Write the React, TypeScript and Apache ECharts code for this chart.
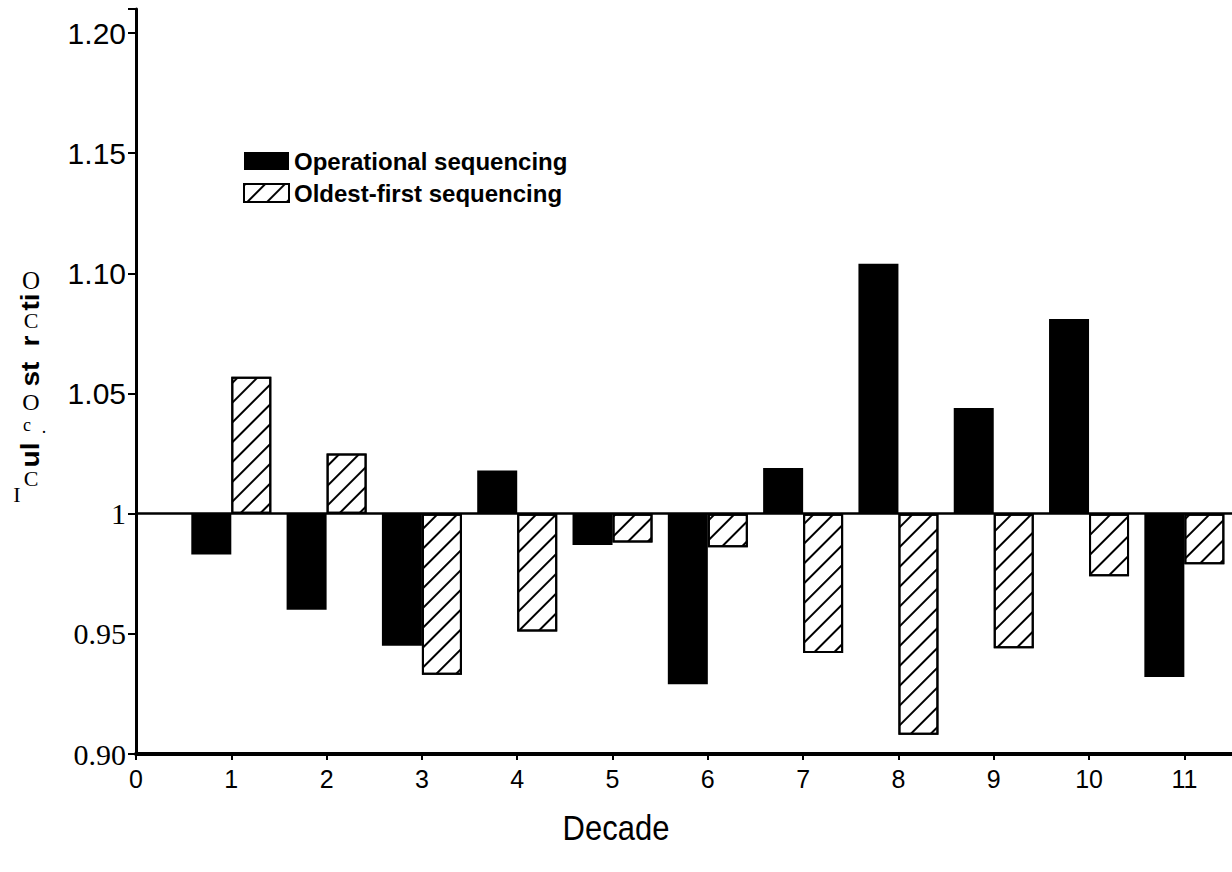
import React, { useEffect, useRef } from "react";
import * as echarts from "echarts";

const decades = [1, 2, 3, 4, 5, 6, 7, 8, 9, 10, 11];
const operational = [0.983, 0.96, 0.945, 1.018, 0.987, 0.929, 1.019, 1.104, 1.044, 1.081, 0.932];
const oldestFirst = [1.057, 1.025, 0.933, 0.951, 0.988, 0.986, 0.942, 0.908, 0.944, 0.974, 0.979];
const yTickLabels = ["0.90", "0.95", "1", "1.05", "1.10", "1.15", "1.20"];
const seriesNames = ["Operational sequencing", "Oldest-first sequencing"];
const baseRatio = 1;
const yMinDelta = -0.1;
const yStep = 0.05;

export default function App() {
  const ref = useRef<HTMLDivElement>(null);
  useEffect(() => {
    if (!ref.current) return;
    const chart = echarts.init(ref.current, null, { renderer: "svg" });
    const sans = "Liberation Sans, Arial, Helvetica, sans-serif";
    const serif = "Liberation Serif, Times New Roman, serif";
    const rot = Math.PI / 2;
    const rotText = (text: string, x: number, y: number) => ({
      type: "text",
      x,
      y,
      rotation: rot,
      scaleX: 1.12,
      style: {
        text,
        fontFamily: sans,
        fontWeight: "bold",
        fontSize: 25,
        fill: "#000",
        textAlign: "center",
        textVerticalAlign: "middle",
      },
      silent: true,
    });
    const upText = (text: string, x: number, y: number, size: number) => ({
      type: "text",
      x,
      y,
      style: { text, fontFamily: serif, fontSize: size, fill: "#000", textAlign: "center", textVerticalAlign: "middle" },
      silent: true,
    });
    const option: any = {
      animation: false,
      backgroundColor: "#fff",
      grid: { left: 136, right: 0, top: 9, bottom: 118, containLabel: false },
      legend: {
        orient: "vertical",
        left: 243,
        top: 149,
        itemWidth: 45,
        itemHeight: 18,
        itemGap: 8,
        padding: 0,
        icon: "rect",
        data: seriesNames,
        textStyle: { fontFamily: sans, fontWeight: "bold", fontSize: 24, color: "#000", padding: [0, 0, 0, 0] },
      },
      xAxis: {
        type: "value",
        min: 0,
        max: 11.5,
        interval: 1,
        splitLine: { show: false },
        axisLine: { onZero: false, lineStyle: { color: "#000", width: 4 } },
        axisTick: { length: 6, lineStyle: { color: "#000", width: 2 } },
        axisLabel: {
          margin: 12,
          color: "#000",
          fontFamily: sans,
          fontSize: 25,
          showMaxLabel: false,
          formatter: (v: number) => (Math.abs(v - Math.round(v)) < 1e-6 ? String(Math.round(v)) : ""),
        },
      },
      yAxis: {
        type: "value",
        min: yMinDelta,
        max: 0.21,
        interval: yStep,
        splitLine: { show: false },
        axisLine: { lineStyle: { color: "#000", width: 3 } },
        axisTick: { length: 8, lineStyle: { color: "#000", width: 2 } },
        axisLabel: {
          margin: 10,
          formatter: (v: number) => {
            const idx = Math.round((v - yMinDelta) / yStep);
            if (Math.abs(v - (yMinDelta + idx * yStep)) > 1e-6 || idx < 0 || idx >= yTickLabels.length) return "";
            const lab = yTickLabels[idx];
            return idx <= 2 ? `{serif|${lab}}` : `{sans|${lab}}`;
          },
          rich: {
            serif: { fontFamily: serif, fontSize: 30, color: "#000" },
            sans: { fontFamily: sans, fontSize: 30, color: "#000" },
          },
        },
      },
      series: [
        {
          name: seriesNames[0],
          type: "bar",
          barWidth: 40,
          barGap: "0%",
          data: decades.map((d, i) => [d, operational[i] - baseRatio]),
          itemStyle: { color: "#000" },
          markLine: {
            silent: true,
            symbol: "none",
            label: { show: false },
            lineStyle: { color: "#000", width: 2.5, type: "solid" },
            data: [{ yAxis: 0 }],
          },
        },
        {
          name: seriesNames[1],
          type: "bar",
          barWidth: 40,
          barGap: "0%",
          data: decades.map((d, i) => [d, oldestFirst[i] - baseRatio]),
          itemStyle: {
            color: "#fff",
            borderColor: "#000",
            borderWidth: 2,
            decal: {
              symbol: "rect",
              symbolSize: 1,
              dashArrayX: [1, 0],
              dashArrayY: [2, 12],
              rotation: -Math.PI / 4,
              color: "#000",
              backgroundColor: "#fff",
            },
          },
        },
      ],
      graphic: [
        {
          type: "text",
          x: 616,
          y: 828,
          scaleY: 1.12,
          style: { text: "Decade", fontFamily: sans, fontSize: 31, fill: "#000", textAlign: "center", textVerticalAlign: "middle" },
          silent: true,
        },
        upText("O", 31, 280, 25),
        rotText("ti", 31, 302),
        upText("C", 31, 320, 22),
        rotText("r", 31, 341),
        rotText("st", 31, 374),
        upText("O", 31, 402, 24),
        upText("c", 27, 425, 18),
        upText(".", 44, 427, 18),
        rotText("ul", 31, 455),
        upText("C", 31, 478, 22),
        upText("I", 17, 494, 22),
      ],
    };
    chart.setOption(option);
    return () => chart.dispose();
  }, []);
  return <div ref={ref} style={{ position: "absolute", left: 0, top: 0, width: 1232, height: 872 }} />;
}
